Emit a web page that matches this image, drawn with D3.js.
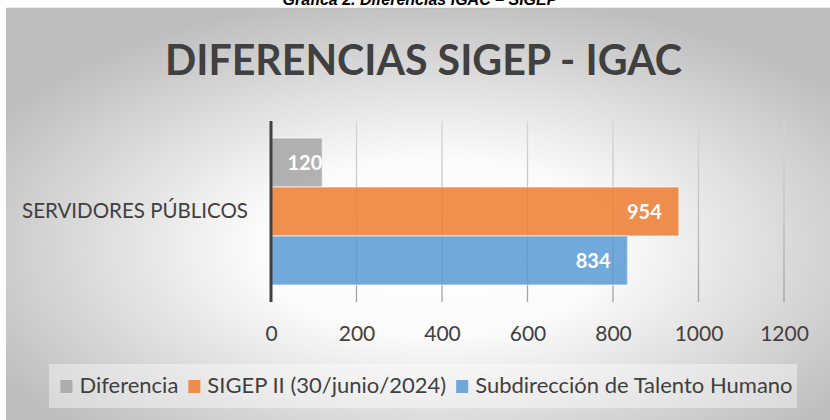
<!DOCTYPE html>
<html>
<head>
<meta charset="utf-8">
<script src="https://cdn.jsdelivr.net/npm/d3@7/dist/d3.min.js"></script>
<style>
  html, body { margin: 0; padding: 0; background: #ffffff; }
  svg { display: block; }
</style>
</head>
<body>
<svg id="chart" width="830" height="420"></svg>
<script>
// ---- data ----
const caption = "Gráfica 2. Diferencias IGAC – SIGEP";
const title = "DIFERENCIAS SIGEP - IGAC";
const categories = ["SERVIDORES PÚBLICOS"];
const seriesNames = ["Diferencia", "SIGEP II (30/junio/2024)", "Subdirección de Talento Humano"];
const seriesValues = [120, 954, 834];
const seriesColors = ["#A5A5A5", "#ED7D31", "#5B9BD5"];
const xTicks = [0, 200, 400, 600, 800, 1000, 1200];

// ---- layout ----
const W = 830, H = 420;
const svg = d3.select("#chart");
const FONT = "Lato, 'Open Sans', sans-serif";

const defs = svg.append("defs");
const bg = defs.append("radialGradient").attr("id", "bg")
  .attr("cx", "52%").attr("cy", "58%").attr("r", "62%");
bg.append("stop").attr("offset", "0%").attr("stop-color", "#ffffff");
bg.append("stop").attr("offset", "35%").attr("stop-color", "#fbfbfb");
bg.append("stop").attr("offset", "100%").attr("stop-color", "#bdbdbd");

const gg = defs.append("linearGradient").attr("id", "grid")
  .attr("gradientUnits", "userSpaceOnUse")
  .attr("x1", 0).attr("x2", 0).attr("y1", 121).attr("y2", 302);
gg.append("stop").attr("offset", "0%").attr("stop-color", "#d6d6d6");
gg.append("stop").attr("offset", "50%").attr("stop-color", "#c2c2c2");
gg.append("stop").attr("offset", "100%").attr("stop-color", "#a0a0a0");

// caption (cut off at top, as in the reference)
svg.append("text")
  .attr("x", 420).attr("y", 5)
  .attr("text-anchor", "middle")
  .attr("font-family", "'Liberation Sans', Arial, sans-serif")
  .attr("font-weight", "bold").attr("font-style", "italic")
  .attr("font-size", 16).attr("fill", "#000")
  .text(caption);

// chart frame
svg.append("rect")
  .attr("x", 6).attr("y", 8).attr("width", W - 6).attr("height", H - 8)
  .attr("fill", "url(#bg)");
svg.append("line")
  .attr("x1", 6).attr("x2", W).attr("y1", 8.5).attr("y2", 8.5)
  .attr("stroke", "#bfbfbf").attr("stroke-width", 1.5);

// title
svg.append("text")
  .attr("x", 423.5).attr("y", 75)
  .attr("text-anchor", "middle")
  .attr("font-family", FONT).attr("font-weight", "bold")
  .attr("font-size", 42).attr("fill", "#404040")
  .attr("textLength", 517).attr("lengthAdjust", "spacingAndGlyphs")
  .text(title);

// scales
const x = d3.scaleLinear().domain([0, 1200]).range([271, 784]);
const y = d3.scaleBand().domain(seriesNames).range([121, 302])
  .paddingInner(0).paddingOuter(0.347);

// gridlines
svg.append("g").selectAll("line").data(xTicks.filter(d => d > 0)).join("line")
  .attr("x1", d => x(d)).attr("x2", d => x(d))
  .attr("y1", 121).attr("y2", 302)
  .attr("stroke", "url(#grid)").attr("stroke-width", 1.3);

// bars
const bars = svg.append("g");
bars.selectAll("rect").data(seriesNames).join("rect")
  .attr("x", x(0))
  .attr("y", d => y(d))
  .attr("width", (d, i) => x(seriesValues[i]) - x(0))
  .attr("height", y.bandwidth())
  .attr("fill", (d, i) => seriesColors[i])
  .attr("fill-opacity", 0.86)
  .attr("stroke", "#ffffff").attr("stroke-opacity", 0.45).attr("stroke-width", 1.5);

// value labels
bars.selectAll("text").data(seriesNames).join("text")
  .attr("x", (d, i) => {
    const v = seriesValues[i];
    return (x(v) - x(0) < 80) ? x(v) : x(v) - 17;
  })
  .attr("y", d => y(d) + y.bandwidth() / 2 + 7.5)
  .attr("text-anchor", "end")
  .attr("font-family", FONT).attr("font-weight", "bold")
  .attr("font-size", 20).attr("fill", "#ffffff")
  .text((d, i) => seriesValues[i]);

// axis line (category axis)
svg.append("line")
  .attr("x1", x(0)).attr("x2", x(0)).attr("y1", 121).attr("y2", 302)
  .attr("stroke", "#404040").attr("stroke-width", 3);

// x tick labels
const xAxis = d3.axisBottom(x).tickValues(xTicks).tickSize(0).tickPadding(0)
  .tickFormat(d3.format("d"));
const xa = svg.append("g").attr("transform", "translate(0,326)").call(xAxis);
xa.select(".domain").remove();
xa.selectAll("text")
  .attr("font-family", FONT).attr("font-size", 21).attr("fill", "#404040")
  .attr("dy", "0.7em");

// category label
svg.append("text")
  .attr("x", 248).attr("y", 217.5)
  .attr("text-anchor", "end")
  .attr("font-family", FONT).attr("font-size", 20.5).attr("fill", "#404040")
  .text(categories[0]);

// legend
svg.append("rect")
  .attr("x", 49).attr("y", 364).attr("width", 748).attr("height", 44)
  .attr("fill", "#ffffff").attr("fill-opacity", 0.4);
const lg = svg.append("g");
const items = lg.selectAll("g").data(seriesNames).join("g");
items.append("rect")
  .attr("width", 12).attr("height", 13).attr("y", 380)
  .attr("fill", (d, i) => seriesColors[i]).attr("fill-opacity", 0.86);
items.append("text")
  .attr("y", 392.5)
  .attr("font-family", FONT).attr("font-size", 22).attr("fill", "#404040")
  .text(d => d);
const widths = [];
items.each(function() { widths.push(d3.select(this).select("text").node().getComputedTextLength()); });
const gapSq = 7, gapItem = 10;
const total = widths.reduce((a, w) => a + 12 + gapSq + w, 0) + gapItem * (widths.length - 1);
let cx = 426.5 - total / 2;
items.each(function(d, i) {
  const g = d3.select(this);
  g.select("rect").attr("x", cx);
  g.select("text").attr("x", cx + 12 + gapSq);
  cx += 12 + gapSq + widths[i] + gapItem;
});
</script>
</body>
</html>
